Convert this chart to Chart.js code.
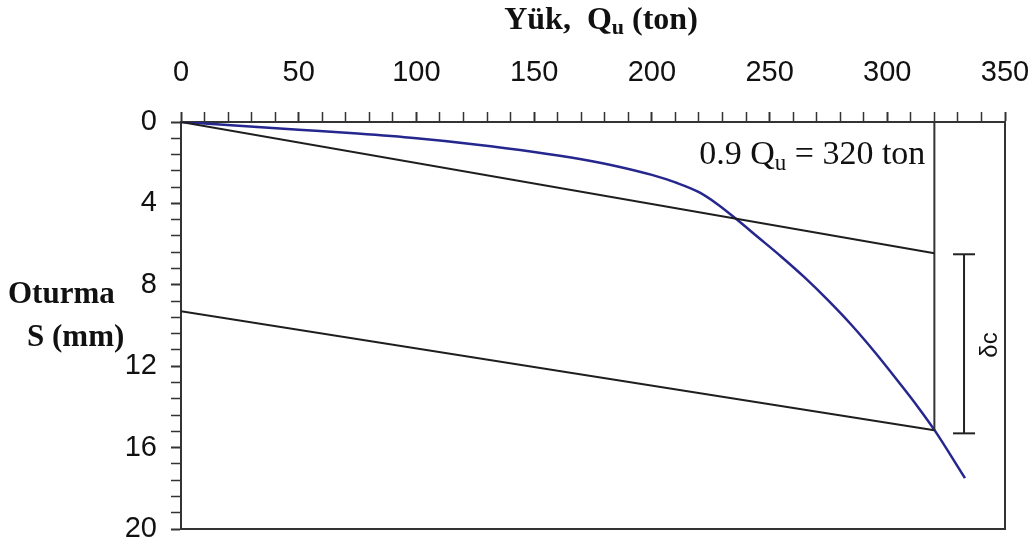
<!DOCTYPE html>
<html>
<head>
<meta charset="utf-8">
<script src="https://cdn.jsdelivr.net/npm/chart.js@4.4.1/dist/chart.umd.min.js"></script>
<style>
  html, body { margin: 0; padding: 0; background: #ffffff; }
  #wrap { width: 1035px; height: 550px; }
</style>
</head>
<body>
<div id="wrap"><canvas id="c" width="1035" height="550"></canvas></div>
<script>
// ---- data ----
const loadQ       = [0, 15, 50, 75, 100, 125, 150, 170, 185, 200, 210, 220, 228, 236, 245, 255, 265, 275, 285, 295, 305, 313, 320, 333];
const settlementS = [0, 0.11, 0.38, 0.57, 0.8, 1.1, 1.47, 1.83, 2.17, 2.6, 2.97, 3.45, 4.05, 4.78, 5.65, 6.62, 7.65, 8.78, 10.0, 11.35, 12.8, 14.0, 15.13, 17.5];

const tangent1Q = [0, 320];
const tangent1S = [0, 6.45];
const tangent2Q = [0, 320];
const tangent2S = [9.3, 15.15];
const limitQ    = [320, 320];
const limitS    = [0, 15.13];
const deltaQ    = [332.6, 332.6];
const deltaS    = [6.5, 15.3];

const xTickStep = 10, xLabelStep = 50, xMax = 350;
const yTickStep = 0.8, yLabelStep = 4, yMax = 20;

const titleParts = ["Yük,  Q", "u", " (ton)"];
const yTitle1 = "Oturma";
const yTitle2 = "S (mm)";
const noteParts = ["0.9 Q", "u", " = 320 ton"];
const deltaLabel = "δc";

function pts(xs, ys) { return xs.map((x, i) => ({ x: x, y: ys[i] })); }

const textPlugin = {
  id: 'texts',
  afterDraw(chart) {
    const ctx = chart.ctx;
    const xs = chart.scales.x, ys = chart.scales.y;
    const ca = chart.chartArea;
    ctx.save();
    // plot frame (right & bottom)
    ctx.strokeStyle = '#333';
    ctx.lineWidth = 2;
    ctx.beginPath();
    ctx.moveTo(ca.right, ca.top);
    ctx.lineTo(ca.right, ca.bottom);
    ctx.lineTo(ca.left, ca.bottom);
    ctx.stroke();

    function drawParts(parts, fontMain, fontSub, xStart, baseline, subDrop) {
      let x = xStart;
      parts.forEach((p, i) => {
        const sub = (i === 1);
        ctx.font = sub ? fontSub : fontMain;
        ctx.fillText(p, x, baseline + (sub ? subDrop : 0));
        x += ctx.measureText(p).width;
      });
    }
    function widthParts(parts, fontMain, fontSub) {
      let w = 0;
      parts.forEach((p, i) => { ctx.font = (i === 1) ? fontSub : fontMain; w += ctx.measureText(p).width; });
      return w;
    }
    ctx.fillStyle = '#111';
    ctx.textBaseline = 'alphabetic';
    ctx.textAlign = 'left';
    // title
    const tMain = 'bold 32px "Liberation Serif"', tSub = 'bold 22px "Liberation Serif"';
    const tw = widthParts(titleParts, tMain, tSub);
    drawParts(titleParts, tMain, tSub, 601 - tw / 2, 29, 5);
    // y title
    ctx.font = 'bold 31px "Liberation Serif"';
    ctx.fillText(yTitle1, 8, 303);
    ctx.fillText(yTitle2, 27, 346);
    // note
    const nMain = '34px "Liberation Serif"', nSub = '23px "Liberation Serif"';
    const nw = widthParts(noteParts, nMain, nSub);
    drawParts(noteParts, nMain, nSub, xs.getPixelForValue(320) - 9 - nw, ys.getPixelForValue(2.06), 6);
    // delta label
    ctx.save();
    ctx.translate(xs.getPixelForValue(344), ys.getPixelForValue(10.96));
    ctx.rotate(-Math.PI / 2);
    ctx.font = '24px "Liberation Sans"';
    ctx.textAlign = 'center';
    ctx.textBaseline = 'middle';
    ctx.fillText(deltaLabel, 0, 0);
    ctx.restore();
    ctx.restore();
  }
};

new Chart(document.getElementById('c'), {
  type: 'scatter',
  data: {
    datasets: [
      { data: pts(tangent1Q, tangent1S), showLine: true, borderColor: '#1e1e1e', borderWidth: 2, pointRadius: 0 },
      { data: pts(tangent2Q, tangent2S), showLine: true, borderColor: '#1e1e1e', borderWidth: 2, pointRadius: 0 },
      { data: pts(limitQ, limitS), showLine: true, borderColor: '#333', borderWidth: 2, pointRadius: 0 },
      { data: pts(deltaQ, deltaS), showLine: true, borderColor: '#222', borderWidth: 2,
        pointStyle: 'line', pointRadius: 11, pointBorderWidth: 2, pointBorderColor: '#222' },
      { data: pts(loadQ, settlementS), showLine: true, borderColor: '#26268f', borderWidth: 2.5,
        pointRadius: 0, cubicInterpolationMode: 'monotone' }
    ]
  },
  options: {
    responsive: false,
    animation: false,
    layout: { padding: { left: 0, right: 30, top: 0, bottom: 21 } },
    plugins: { legend: { display: false }, tooltip: { enabled: false } },
    scales: {
      x: {
        type: 'linear', position: 'top', min: 0, max: xMax,
        afterFit(s) { s.height = 122; s.paddingLeft = 0; s.paddingRight = 0; },
        border: { display: true, color: '#333', width: 2 },
        grid: { drawOnChartArea: false, drawTicks: true, tickLength: 10, tickColor: '#333',
                tickWidth: (c) => (c.tick && c.tick.value % xLabelStep === 0) ? 2 : 1.5 },
        ticks: {
          stepSize: xTickStep, autoSkip: false, maxRotation: 0, padding: 22,
          color: '#111', font: { family: '"Liberation Sans"', size: 29 },
          callback: (v) => (v % xLabelStep === 0 ? String(v) : '')
        }
      },
      y: {
        type: 'linear', reverse: true, min: 0, max: yMax,
        afterFit(s) { s.width = 181; s.paddingTop = 0; s.paddingBottom = 0; },
        border: { display: true, color: '#333', width: 2 },
        grid: { drawOnChartArea: false, drawTicks: true, tickLength: 10, tickColor: '#333',
                tickWidth: (c) => (c.tick && Math.abs(c.tick.value / yLabelStep - Math.round(c.tick.value / yLabelStep)) < 1e-6) ? 2 : 1.5 },
        ticks: {
          stepSize: yTickStep, autoSkip: false, padding: 14,
          color: '#111', font: { family: '"Liberation Sans"', size: 29 },
          callback: (v) => (Math.abs(v / yLabelStep - Math.round(v / yLabelStep)) < 1e-6 ? String(Math.round(v)) : '')
        }
      }
    }
  },
  plugins: [textPlugin]
});
</script>
</body>
</html>
